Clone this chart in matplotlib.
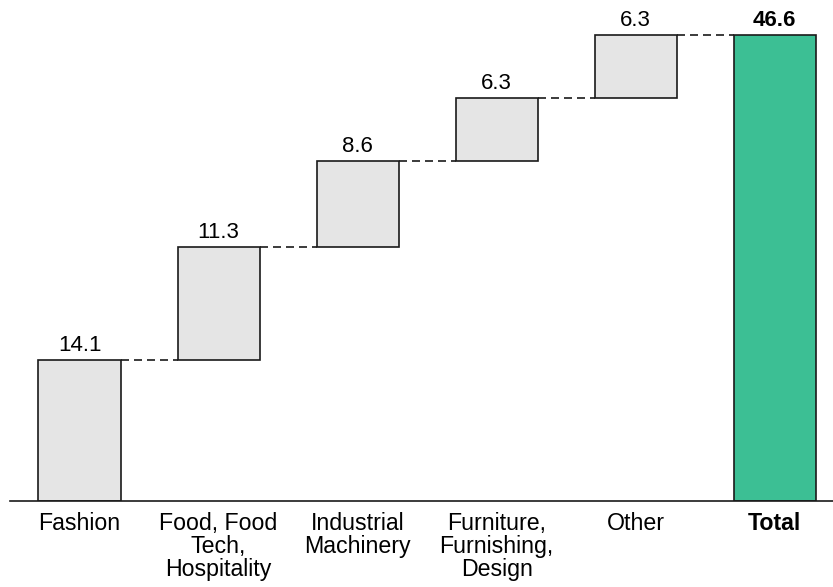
import matplotlib
matplotlib.use("Agg")
import matplotlib.pyplot as plt
import numpy as np

plt.rcParams["font.family"] = ["Liberation Sans", "DejaVu Sans"]

# data
categories = ["Fashion", "Food, Food\nTech,\nHospitality", "Industrial\nMachinery",
              "Furniture,\nFurnishing,\nDesign", "Other", "Total"]
steps = [14.1, 11.3, 8.6, 6.3, 6.3]
total = 46.6

fig = plt.figure(figsize=(8.33, 5.87), dpi=100)
ax = fig.add_axes([10 / 833, 86 / 587, 1 - 10 / 833, 500 / 587])

x = np.arange(len(categories))
width = 0.59
bottoms = np.concatenate([[0], np.cumsum(steps)[:-1]])
tops = bottoms + np.array(steps)

ax.bar(x[:-1], steps, bottom=bottoms, width=width, color="#e5e5e5",
       edgecolor="#1a1a1a", linewidth=1.2, zorder=2)
ax.bar(x[-1], total, width=width, color="#3cbf94",
       edgecolor="#1a1a1a", linewidth=1.2, zorder=2)

# connectors
for i, lvl in enumerate(tops):
    ax.plot([x[i] + width / 2, x[i + 1] - width / 2], [lvl, lvl],
            color="#1a1a1a", linestyle=(0, (4.8, 3)), linewidth=1.2, zorder=1)

# value labels
for i, (t, v) in enumerate(zip(tops, steps)):
    ax.text(x[i], t + 0.9, f"{v:.1f}", ha="center", va="baseline", fontsize=16)
ax.text(x[-1], total + 0.9, f"{total:.1f}", ha="center", va="baseline",
        fontsize=16, fontweight="bold")

ax.set_xlim(-0.5, 5.42)
ax.set_ylim(0, 50)
ax.set_xticks(x)
ax.set_xticklabels(categories, fontsize=16.7, linespacing=0.99)
ax.get_xticklabels()[-1].set_fontweight("bold")
ax.tick_params(axis="x", length=0, pad=8)
ax.set_yticks([])
for side in ["top", "right", "left"]:
    ax.spines[side].set_visible(False)
ax.spines["bottom"].set_linewidth(1.2)
ax.spines["bottom"].set_color("#1a1a1a")

fig.savefig("out.png", dpi=100)
